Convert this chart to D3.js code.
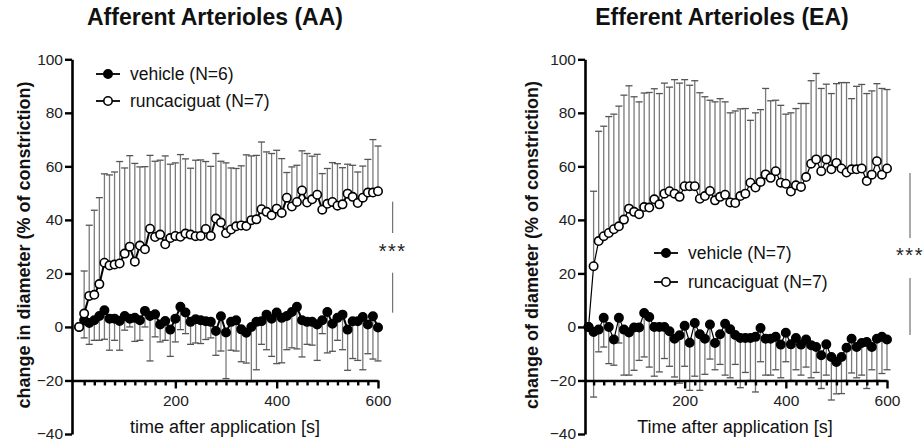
<!DOCTYPE html>
<html>
<head>
<meta charset="utf-8">
<script src="https://cdn.jsdelivr.net/npm/d3@7"></script>
<style>
  body { margin: 0; background: #fff; }
  svg { display: block; font-family: Arial, "Liberation Sans", Helvetica, sans-serif; }
</style>
</head>
<body>
<svg id="chart" width="924" height="443"></svg>
<script>
// Sampling times (s after application)
const timeSec = [10,20,30,40,50,60,70,80,90,100,110,120,130,140,150,160,170,180,190,200,
  210,220,230,240,250,260,270,280,290,300,310,320,330,340,350,360,370,380,390,400,
  410,420,430,440,450,460,470,480,490,500,510,520,530,540,550,560,570,580,590,600];

// Afferent arterioles: mean change in diameter and error bar ends
const aaVehicle = [0,2.5,1.5,2.5,4.1,6.2,3.1,3.1,2.2,4.1, 3.1,3.4,2.5,6,4.1,4.7,0.9,2.2,-1,3.1,
  7.5,5.4,1.9,2.9,2.5,2.1,1.9,-1.5,4,-2.1, 1.9,2.5,-0.9,-2.2,0,1.9,2.1,4.6,3.1,5.4,
  3.4,4.1,5.6,7.5,2.5,1.9,1.9,0.9,2.5,5.6, 1.2,3.4,4.6,-1,2.1,2.1,3.7,0.9,4,-0.2];
const aaVehicleLow = [0,-4.1,-6.5,-5,-5,-4.6,-8.7,-5,-8.7,-1.2, 0,-5.4,-5,0,-12.7,-3.7,-5.6,-5,-11,-5.6,
  -1,-2.5,-6.5,-6,-6.2,-4.7,-4.1,-10.6,-9,-19.3, -8.7,-9,-13,-13.5,-20.5,-16,-6.5,-8.5,-11,-13.7,
  -13.4,-8.5,-7.8,-8.2,-11.2,-6.5,-6.8,-12.5,-2.5,-9.7, -9.1,-5,-8.5,-16.2,-11.8,-12.5,-16,-10,-12,-12.7];
const aaRunca = [0,5,11.6,12,16,24,23,23.3,23.7,27.4, 30,24.4,30.4,29,36.7,33.6,34.5,30.9,33.2,34,
  33.7,34.9,34.5,33.9,34,36.6,34,40.5,39,35, 36.4,37.6,37.9,37.7,39.9,40.2,44,43,41.7,44.2,
  42.6,48.3,45,46.7,51,46.5,47.7,49.4,43.8,46, 46.7,45.3,45.8,49.8,48.6,46.3,48.3,50.2,50.2,50.7];
const aaRuncaHigh = [0,20.9,38,43.6,48.3,57.2,56.8,57.9,61.8,59.4, 64,61.1,59.8,59.9,64.1,61.9,62.3,63.9,60.8,61.3,
  64.4,62.8,59.3,62.3,62.4,61.8,60,64.8,61.9,61.3, 59.4,59.2,60.2,64.3,63.9,64.1,69.1,65.4,64.8,66,
  62.9,57.7,59.8,60.4,65.8,64.8,63.8,64.5,57.3,59.2, 61.4,61,59.5,60.8,60.4,57.9,60.1,62.6,70,67.6];

// Efferent arterioles
const eaVehicle = [0,-1.9,-1,3.4,0,-4.7,3.4,-1,-2.1,-0.2, -0.2,5.2,3.7,0,0,0,-1.6,-4.4,-3.1,0.4,
  -5.9,1.5,-2.7,-4.4,0.9,-6,-2.7,1.2,-0.9,-3, -4.1,-4.1,-4.1,-3.7,-0.4,-4.4,-4.4,-3.7,-6.6,-2.2,
  -6.5,-4.1,-6.6,-4.7,-6.8,-7.5,-10.6,-6.5,-11.2,-13.1, -11.2,-7.8,-4.4,-7.5,-6,-5.6,-7.5,-4.4,-3.7,-4.7];
const eaVehicleLow = [0,-26.2,-9.3,-7.5,-13.7,-14.3,-6,-18,-18,-16.2, -12.5,-11.2,-15,-18.4,-16.8,-11.8,-14.7,-18.7,-21,-14.7,
  -23.7,-18.4,-23.7,-17.7,-12,-16,-14,-18,-19,-14, -22.7,-17,-20,-24.3,-13,-18,-18,-16,-19,-13,
  -20,-16,-18,-15,-19,-17,-23,-18,-27.3,-25, -24.9,-20,-17.2,-19,-18,-23,-16,-20,-17.4,-16];
const eaRunca = [0,22.7,32.1,33.9,35.1,36.5,37.6,40.1,44.2,43, 42.1,44.8,44.6,47.7,45.8,49.8,50.7,49.8,48.6,52.6,
  52.6,52.6,47.9,48.9,50.8,47.3,48.6,49.4,46.5,46.3, 48.9,49.8,53.9,52.1,54.2,57,55.7,58.2,53.9,53.5,
  50.6,52.9,52.3,56,61,62.6,58.2,62.6,58.9,61.3, 59.2,57.7,58.9,58.9,59.2,54.5,56.9,61.9,56.9,59.2];
const eaRuncaHigh = [0,50.7,73.1,75,78.6,79.5,82.5,86.6,90.1,86, 84.1,87.4,87.6,89,87.2,91.1,89.6,92.4,91.1,92.4,
  90.3,92,87.5,86,84.7,84.1,85.3,84.1,80,80.7, 81.5,81.6,77.2,80,81.2,89.1,84.5,84.7,82.8,79.5,
  80,81.6,83.5,83.5,92,94.7,89.1,90.7,87.2,90.9, 91.3,91.3,85.3,89.9,90.6,87.2,88.2,90.9,89.1,88.7];

// Axis ticks
const yTicks = [-40, -20, 0, 20, 40, 60, 80, 100];
const xMajorTicks = [200, 400, 600];
const xMinorTicks = [20,40,60,80,100,120,140,160,180,220,240,260,280,300,320,340,360,380,
  420,440,460,480,500,520,540,560,580];

const svg = d3.select("#chart");
const y = d3.scaleLinear().domain([-40, 100]).range([434, 59.3]);

const panels = [
  {
    title: "Afferent Arterioles (AA)", titleX: 215,
    yLabel: "change in diameter (% of constriction)", yLabelX: 29.5,
    xLabel: "time after application [s]", xLabelX: 225,
    xDomain: [-4, 600], xRange: [72, 378],
    vehicle: aaVehicle, vehicleLow: aaVehicleLow, runca: aaRunca, runcaHigh: aaRuncaHigh,
    vehicleN: "vehicle (N=6)", runcaN: "runcaciguat (N=7)",
    legendX: 108, legendY: [74, 101],
    vehicleOnTop: false, lineW: 2,
    sigX: 392.7, sigTop: [201.7, 233], sigStar: 249, sigBottom: [272.7, 312.7]
  },
  {
    title: "Efferent Arterioles (EA)", titleX: 722,
    yLabel: "change of diameter (% of constriction)", yLabelX: 538,
    xLabel: "Time after application [s]", xLabelX: 735,
    xDomain: [3, 600], xRange: [585, 887],
    vehicle: eaVehicle, vehicleLow: eaVehicleLow, runca: eaRunca, runcaHigh: eaRuncaHigh,
    vehicleN: "vehicle (N=7)", runcaN: "runcaciguat (N=7)",
    legendX: 666, legendY: [253, 282],
    vehicleOnTop: true, lineW: 1.2,
    sigX: 910, sigTop: [173, 238], sigStar: 253, sigBottom: [278, 335]
  }
];

const barColor = "#7a7a7a";
const capHalf = 3.5;
const r = 4.2;

panels.forEach(p => {
  const x = d3.scaleLinear().domain(p.xDomain).range(p.xRange);
  const g = svg.append("g");

  // title
  g.append("text").attr("x", p.titleX).attr("y", 25)
    .attr("text-anchor", "middle").attr("font-size", 23).attr("font-weight", "bold")
    .attr("fill", "#111").text(p.title);

  // y axis title
  g.append("text")
    .attr("transform", `translate(${p.yLabelX},245) rotate(-90)`)
    .attr("text-anchor", "middle").attr("font-size", 18).attr("font-weight", "bold")
    .attr("fill", "#111").text(p.yLabel);

  // x axis title
  g.append("text").attr("x", p.xLabelX).attr("y", 433)
    .attr("text-anchor", "middle").attr("font-size", 18)
    .attr("fill", "#111").text(p.xLabel);

  // error bars
  const bars = g.append("g").attr("stroke", barColor).attr("stroke-width", 1.3).attr("fill", "none");
  function drawBars(vals, ends) {
    vals.forEach((v, i) => {
      const e = ends[i];
      if (Math.abs(e - v) < 0.05) return;
      const xp = x(timeSec[i]);
      bars.append("line").attr("x1", xp).attr("x2", xp).attr("y1", y(v)).attr("y2", y(e));
      bars.append("line").attr("x1", xp - capHalf).attr("x2", xp + capHalf)
        .attr("y1", y(e)).attr("y2", y(e)).attr("stroke", "#555");
    });
  }
  drawBars(p.runca, p.runcaHigh);
  drawBars(p.vehicle, p.vehicleLow);

  // axes
  const yAxisG = g.append("g").attr("transform", `translate(${p.xRange[0]},0)`)
    .call(d3.axisLeft(y).tickValues(yTicks).tickSize(7).tickSizeOuter(0).tickPadding(2));
  const xAxisG = g.append("g").attr("transform", `translate(0,${y(-20)})`)
    .call(d3.axisBottom(x).tickValues(xMajorTicks).tickSize(8).tickSizeOuter(0).tickPadding(7));
  const xMinorG = g.append("g").attr("transform", `translate(0,${y(-20)})`)
    .call(d3.axisBottom(x).tickValues(xMinorTicks).tickSize(5).tickSizeOuter(0).tickFormat(""));
  xMinorG.select(".domain").remove();
  [yAxisG, xAxisG, xMinorG].forEach(a => {
    a.select(".domain").attr("stroke", "#000").attr("stroke-width", 2.6);
    a.selectAll(".tick line").attr("stroke", "#000").attr("stroke-width", 2.4);
    a.selectAll(".tick text").attr("font-size", 15.5).attr("fill", "#222")
      .attr("font-family", "Arial, 'Liberation Sans', sans-serif");
  });

  // series lines and markers
  const line = d3.line().x((d, i) => x(timeSec[i])).y(d => y(d));
  function drawSeries(vals, filled) {
    g.append("path").datum(vals).attr("d", line)
      .attr("fill", "none").attr("stroke", "#000").attr("stroke-width", p.lineW);
    g.append("g").selectAll("circle").data(vals).join("circle")
      .attr("cx", (d, i) => x(timeSec[i])).attr("cy", d => y(d)).attr("r", r)
      .attr("fill", filled ? "#000" : "#fff").attr("stroke", "#000").attr("stroke-width", 1.6);
  }
  if (p.vehicleOnTop) { drawSeries(p.runca, false); drawSeries(p.vehicle, true); }
  else { drawSeries(p.vehicle, true); drawSeries(p.runca, false); }

  // legend
  const legend = [{ label: p.vehicleN, filled: true }, { label: p.runcaN, filled: false }];
  legend.forEach((d, k) => {
    const ly = p.legendY[k];
    g.append("line").attr("x1", p.legendX - 12).attr("x2", p.legendX + 12)
      .attr("y1", ly).attr("y2", ly).attr("stroke", "#000").attr("stroke-width", 1.8);
    g.append("circle").attr("cx", p.legendX).attr("cy", ly).attr("r", r)
      .attr("fill", d.filled ? "#000" : "#fff").attr("stroke", "#000").attr("stroke-width", 1.6);
    g.append("text").attr("x", p.legendX + 22).attr("y", ly + 6)
      .attr("font-size", 17.5).attr("fill", "#111").text(d.label);
  });

  // significance bracket
  const sig = g.append("g").attr("stroke", "#555").attr("stroke-width", 1);
  sig.append("line").attr("x1", p.sigX).attr("x2", p.sigX).attr("y1", p.sigTop[0]).attr("y2", p.sigTop[1]);
  sig.append("line").attr("x1", p.sigX).attr("x2", p.sigX).attr("y1", p.sigBottom[0]).attr("y2", p.sigBottom[1]);
  g.append("text").attr("x", p.sigX).attr("y", p.sigStar + 9)
    .attr("text-anchor", "middle").attr("font-size", 20).attr("letter-spacing", 1.5)
    .attr("fill", "#222").text("***");
});
</script>
</body>
</html>
